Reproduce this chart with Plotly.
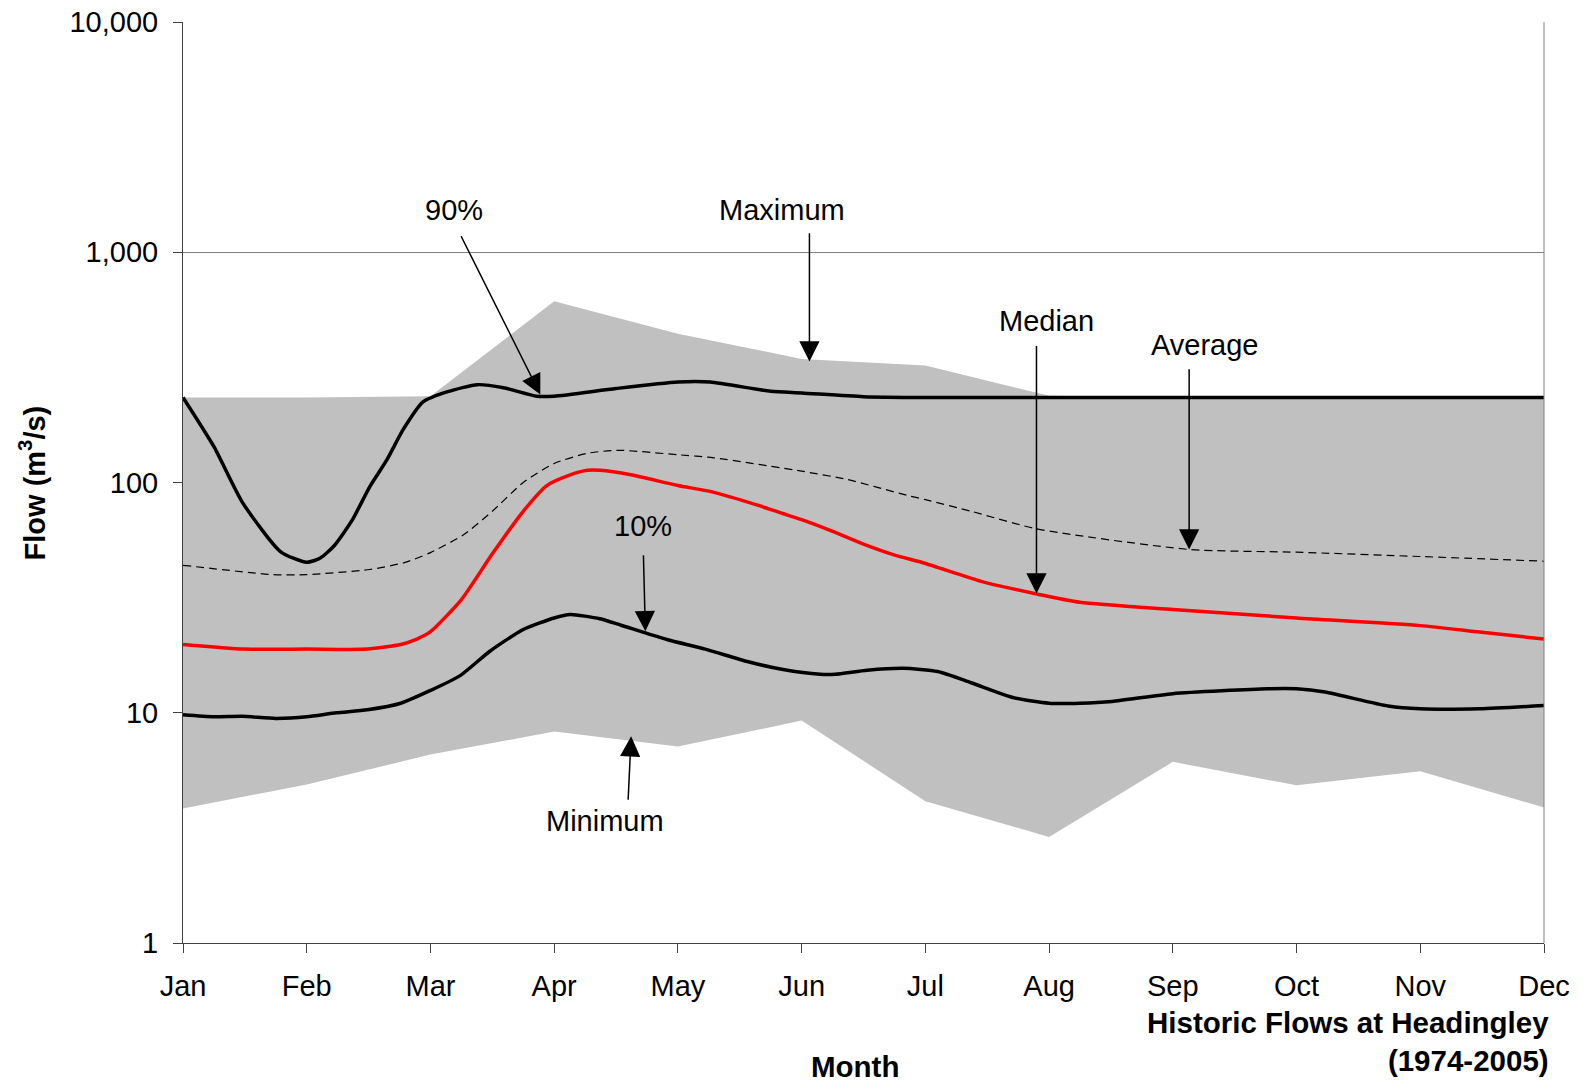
import plotly.graph_objects as go

# Month positions (0 = Jan ... 11 = Dec) and tick labels
months = ["Jan", "Feb", "Mar", "Apr", "May", "Jun", "Jul", "Aug", "Sep", "Oct", "Nov", "Dec"]
month_pos = list(range(12))

# Monthly envelope of recorded flows (m3/s)
maximum = [234, 234, 237, 612, 443, 344, 322, 238, 234, 234, 234, 234]
minimum = [3.84, 4.88, 6.58, 8.28, 7.13, 9.25, 4.13, 2.89, 6.12, 4.84, 5.57, 3.88]

# 90th percentile flow
p90_x = [0, 0.25, 0.48, 0.79, 1.0, 1.11, 1.22, 1.37, 1.51, 1.65, 1.78, 1.94, 2.14, 2.38,
         2.59, 2.86, 3.0, 3.5, 4.0, 4.26, 4.75, 5.0, 5.5, 6.0, 7.0, 8.0, 9.0, 10.0, 11.0]
p90_y = [234, 143, 82, 50, 45, 47, 53, 69, 96, 126, 170, 224, 248, 266,
         258, 237, 237, 256, 273, 273, 249, 245, 236, 234, 234, 234, 234, 234, 234]

# 10th percentile flow
p10_x = [0, 0.25, 0.48, 0.75, 1.0, 1.24, 1.49, 1.76, 2.0, 2.24, 2.48, 2.75, 3.0, 3.13,
         3.37, 3.54, 3.91, 4.22, 4.56, 4.85, 5.15, 5.27, 5.53, 5.82, 6.1, 6.37, 6.72,
         7.0, 7.25, 7.51, 8.0, 8.77, 9.0, 9.23, 9.74, 10.0, 10.48, 11.0]
p10_y = [9.8, 9.6, 9.65, 9.45, 9.6, 10.0, 10.3, 11.0, 12.5, 14.5, 18.5, 23.0, 25.8, 26.7,
         25.6, 24.0, 20.8, 18.9, 16.7, 15.4, 14.7, 14.7, 15.3, 15.6, 15.1, 13.5, 11.6,
         11.0, 11.0, 11.2, 12.1, 12.7, 12.7, 12.3, 10.7, 10.4, 10.4, 10.75]

# Median flow
median_x = [0, 0.49, 1.0, 1.49, 1.76, 1.89, 2.0, 2.25, 2.5, 2.75, 2.94, 3.13,
            3.27, 3.37, 3.62, 4.0, 4.26, 4.67, 4.83, 5.0, 5.23, 5.5, 5.74, 6.0, 6.45, 6.9,
            7.25, 8.0, 9.0, 10.0, 10.48, 11.0]
median_y = [19.8, 18.9, 18.9, 18.9, 19.8, 20.9, 22.5, 31, 49, 75, 97, 108,
            113, 113, 108, 97, 91.5, 78.9, 73.8, 69, 62, 54, 48.6, 44.5, 37.2, 32.8,
            30.2, 28.1, 25.8, 23.9, 22.4, 20.9]

# Average flow
avg_x = [0, 0.73, 1.0, 1.51, 1.79, 2.0, 2.27, 2.5, 2.75, 3.0, 3.27, 3.52, 4.0, 4.29,
         5.0, 5.37, 5.85, 6.0, 6.37, 6.9, 8.13, 9.0, 10.0, 11.0]
avg_y = [43.7, 39.8, 39.8, 41.9, 44.9, 49.6, 59.4, 75, 100, 121, 134, 138, 132, 128,
         112, 103, 88, 84.3, 75, 62.9, 51.2, 49.8, 47.7, 45.5]

FONT = "Liberation Sans, Arial, sans-serif"
GREY_FILL = "#C0C0C0"

fig = go.Figure()

# Shaded band between minimum and maximum
fig.add_trace(go.Scatter(x=month_pos, y=minimum, mode="lines",
                         line=dict(width=0, color=GREY_FILL), hoverinfo="skip"))
fig.add_trace(go.Scatter(x=month_pos, y=maximum, mode="lines", fill="tonexty",
                         fillcolor=GREY_FILL, line=dict(width=0, color=GREY_FILL),
                         hoverinfo="skip"))

# Percentile, median and average curves
fig.add_trace(go.Scatter(x=avg_x, y=avg_y, mode="lines",
                         line=dict(color="black", width=1.2, dash="8px,5px",
                                   shape="spline", smoothing=0.6)))
fig.add_trace(go.Scatter(x=p10_x, y=p10_y, mode="lines",
                         line=dict(color="black", width=3.5, shape="spline", smoothing=0.6)))
fig.add_trace(go.Scatter(x=median_x, y=median_y, mode="lines",
                         line=dict(color="#FF0000", width=3.5, shape="spline", smoothing=0.6)))
fig.add_trace(go.Scatter(x=p90_x, y=p90_y, mode="lines",
                         line=dict(color="black", width=3.5, shape="spline", smoothing=0.6)))

# Curve labels with arrows (positions in month index / log10 flow)
labels = [
    # text, text x, text y, tail x, tail y, head x, head y
    ("90%", 2.193, 3.185, 2.242, 3.076, 2.888, 2.382),
    ("Maximum", 4.842, 3.185, 5.063, 3.089, 5.063, 2.525),
    ("Median", 6.979, 2.703, 6.898, 2.599, 6.898, 1.518),
    ("Average", 8.264, 2.599, 8.132, 2.498, 8.132, 1.709),
    ("10%", 3.721, 1.810, 3.721, 1.691, 3.737, 1.354),
    ("Minimum", 3.414, 0.529, 3.597, 0.616, 3.622, 0.898),
]
annotations = []
for text, tx, ty, ax, ay, hx, hy in labels:
    annotations.append(dict(x=tx, y=ty, xref="x", yref="y", text=text, showarrow=False,
                            font=dict(family=FONT, size=29, color="black"),
                            xanchor="center", yanchor="middle"))
    annotations.append(dict(x=hx, y=hy, xref="x", yref="y", ax=ax, ay=ay,
                            axref="x", ayref="y", text="", showarrow=True,
                            arrowhead=2, arrowsize=2.7, arrowwidth=1.5,
                            arrowcolor="black", standoff=0))

# Axis titles and caption
annotations.append(dict(x=-0.111, y=0.5, xref="paper", yref="paper",
                        text="<b>Flow (m<sup>3</sup>/s)</b>", textangle=-90,
                        showarrow=False, font=dict(family=FONT, size=29, color="black"),
                        xanchor="center", yanchor="middle"))
annotations.append(dict(x=0.494, y=-0.134, xref="paper", yref="paper",
                        text="<b>Month</b>", showarrow=False,
                        font=dict(family=FONT, size=29.5, color="black"),
                        xanchor="center", yanchor="middle"))
annotations.append(dict(x=1.005, y=-0.066, xref="paper", yref="paper",
                        text="<b>Historic Flows at Headingley<br>(1974-2005)</b>",
                        showarrow=False, align="right",
                        font=dict(family=FONT, size=29.5, color="black"),
                        xanchor="right", yanchor="top"))

fig.update_layout(
    width=1583, height=1084,
    margin=dict(l=183, r=39, t=22, b=141, autoexpand=False),
    plot_bgcolor="white", paper_bgcolor="white",
    showlegend=False,
    font=dict(family=FONT, size=29, color="black"),
    annotations=annotations,
    shapes=[dict(type="line", xref="paper", yref="paper", x0=1, x1=1, y0=0, y1=1,
                 line=dict(color="#808080", width=1), layer="above")],
)

fig.update_xaxes(
    range=[0, 11], tickvals=month_pos, ticktext=months,
    automargin=False,
    showgrid=False, zeroline=False,
    showline=True, linecolor="#404040", linewidth=1,
    ticks="outside", ticklen=9, tickcolor="#404040", tickwidth=1,
    ticklabelstandoff=8,
    tickfont=dict(family=FONT, size=29, color="black"),
)
fig.update_yaxes(
    type="log", range=[0, 4],
    tickvals=[1, 10, 100, 1000, 10000],
    ticktext=["1", "10", "100", "1,000", "10,000"],
    automargin=False,
    showgrid=True, gridcolor="#808080", gridwidth=1,
    zeroline=False,
    showline=True, linecolor="#404040", linewidth=1,
    ticks="outside", ticklen=9, tickcolor="#404040", tickwidth=1,
    ticklabelstandoff=9,
    tickfont=dict(family=FONT, size=29, color="black"),
)

fig.write_html("out.html")
